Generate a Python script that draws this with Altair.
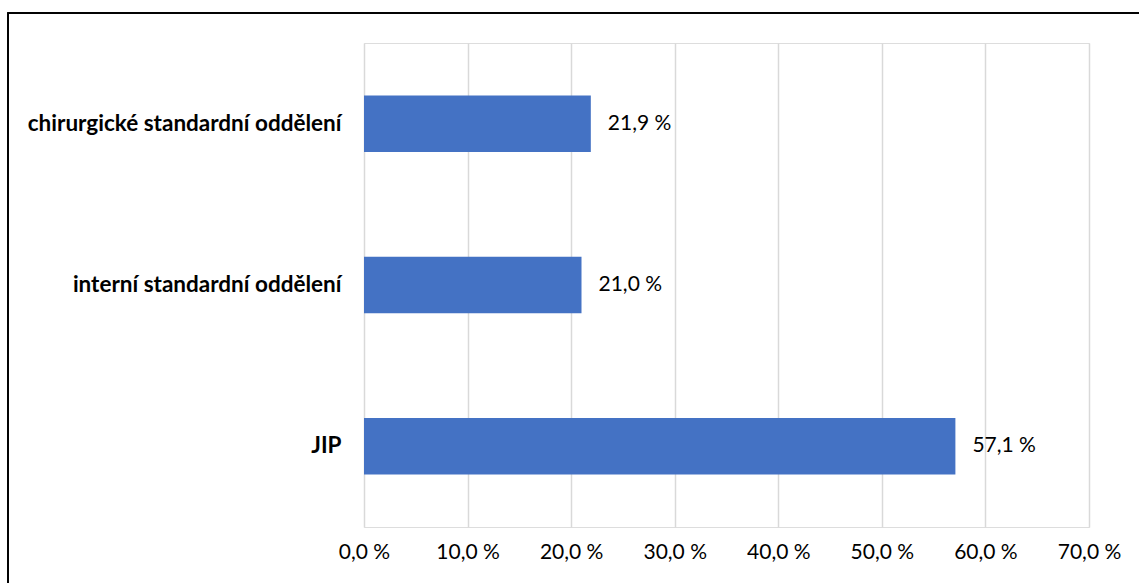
import altair as alt
import pandas as pd

categories = ["chirurgické standardní oddělení", "interní standardní oddělení", "JIP"]
values = [21.9, 21.0, 57.1]
x_ticks = [0, 10, 20, 30, 40, 50, 60, 70]

df = pd.DataFrame({"kat": categories, "pct": values})
df["label"] = df["pct"].map(lambda v: f"{v:.1f}".replace(".", ",") + " %")

W, H = 725, 484
FONT = "Lato"

x_scale = alt.Scale(domain=[0, 70], nice=False)
y_scale = alt.Scale(domain=categories, paddingInner=0.65, paddingOuter=0.325)

bars = alt.Chart(df).mark_bar(color="#4472C4").encode(
    x=alt.X("pct:Q", scale=x_scale, axis=alt.Axis(
        values=x_ticks, title=None, domain=False, ticks=False, grid=True,
        gridColor="#D9D9D9", gridWidth=1.5, labelFontSize=21, labelFont=FONT,
        labelColor="#000000", labelPadding=14, labelFlush=False,
        labelOverlap=False,
        labelExpr="replace(format(datum.value, '.1f'), '.', ',') + ' %'")),
    y=alt.Y("kat:N", scale=y_scale, sort=categories, axis=alt.Axis(
        title=None, domain=False, ticks=False, grid=False, labelFontSize=22.5,
        labelFont=FONT, labelFontWeight="bold", labelColor="#000000",
        labelPadding=23, labelLimit=400)),
)

text = alt.Chart(df).mark_text(align="left", baseline="middle", dx=17,
                               fontSize=21, font=FONT, color="#000000").encode(
    x=alt.X("pct:Q", scale=x_scale),
    y=alt.Y("kat:N", scale=y_scale, sort=categories),
    text="label:N",
)

border = alt.Chart(df).mark_rect(fill=None, stroke="#000000", strokeWidth=1.5).encode(
    x=alt.value(-356), x2=alt.value(W + 60), y=alt.value(-30), y2=alt.value(H + 80)
)

chart = alt.layer(bars, text, border).properties(
    width=W, height=H,
    autosize=alt.AutoSizeParams(type="none"),
    padding={"left": 364, "top": 43, "right": 50, "bottom": 56},
).configure_view(stroke=None).configure(background="#FFFFFF")

chart.save("out.html", embed_options={"renderer": "svg", "actions": False})
